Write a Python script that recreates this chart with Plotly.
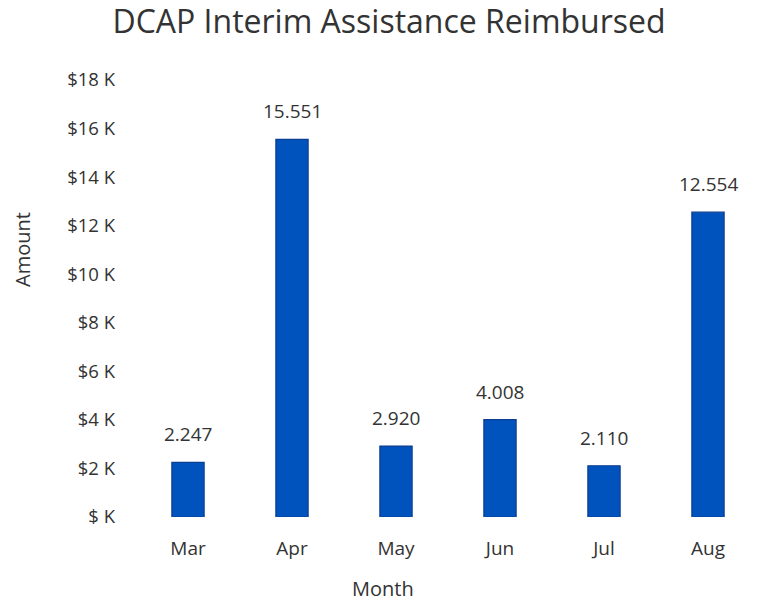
import plotly.graph_objects as go

# Monthly DCAP interim assistance reimbursed (dollars)
months = ["Mar", "Apr", "May", "Jun", "Jul", "Aug"]
amounts = [2247, 15551, 2920, 4008, 2110, 12554]

tick_values = [0, 2000, 4000, 6000, 8000, 10000, 12000, 14000, 16000, 18000]
tick_labels = ["$ K", "$2 K", "$4 K", "$6 K", "$8 K", "$10 K", "$12 K", "$14 K", "$16 K", "$18 K"]

FONT = "Open Sans, Noto Sans, sans-serif"
TEXT = "#333333"

W, H = 760, 604
L, R, T, B = 136, 0, 80, 87

fig = go.Figure(
    go.Bar(
        x=months,
        y=amounts,
        marker=dict(color="#0052BD", line=dict(color="#0B3E92", width=1.2)),
        hoverinfo="x+y",
    )
)

# Value labels above each bar, in thousands
for m, v in zip(months, amounts):
    fig.add_annotation(
        x=m, y=v, xref="x", yref="y",
        text=f"{v / 1000:.3f}",
        showarrow=False, yanchor="bottom", yshift=13,
        font=dict(family=FONT, size=19, color=TEXT),
    )

# Axis titles
fig.add_annotation(
    x=(22 - L) / (W - L - R), y=(H - B - 250) / (H - T - B),
    xref="paper", yref="paper", text="Amount", textangle=-90,
    xanchor="center", showarrow=False,
    font=dict(family=FONT, size=20, color=TEXT),
)
fig.add_annotation(
    x=(383 - L) / (W - L - R), y=-(588 - (H - B)) / (H - T - B),
    xref="paper", yref="paper", text="Month", yanchor="middle",
    showarrow=False, font=dict(family=FONT, size=20, color=TEXT),
)

fig.update_layout(
    width=W, height=H,
    margin=dict(l=L, r=R, t=T, b=B),
    paper_bgcolor="white", plot_bgcolor="white",
    bargap=0.69,
    showlegend=False,
    title=dict(
        text="DCAP Interim Assistance Reimbursed",
        x=389 / W, xref="container", xanchor="center",
        y=1 - 22 / H, yref="container", yanchor="middle",
        font=dict(family=FONT, size=32, color=TEXT),
    ),
    font=dict(family=FONT, color=TEXT),
)
fig.update_xaxes(
    showgrid=False, showline=False, zeroline=False, ticks="",
    ticklabelstandoff=18,
    tickfont=dict(family=FONT, size=19, color=TEXT),
)
fig.update_yaxes(
    range=[0, 18000], tickvals=tick_values, ticktext=tick_labels,
    showgrid=False, showline=False, zeroline=False, ticks="",
    ticklabelstandoff=20,
    tickfont=dict(family=FONT, size=18.5, color=TEXT),
)

fig.write_html("out.html")
